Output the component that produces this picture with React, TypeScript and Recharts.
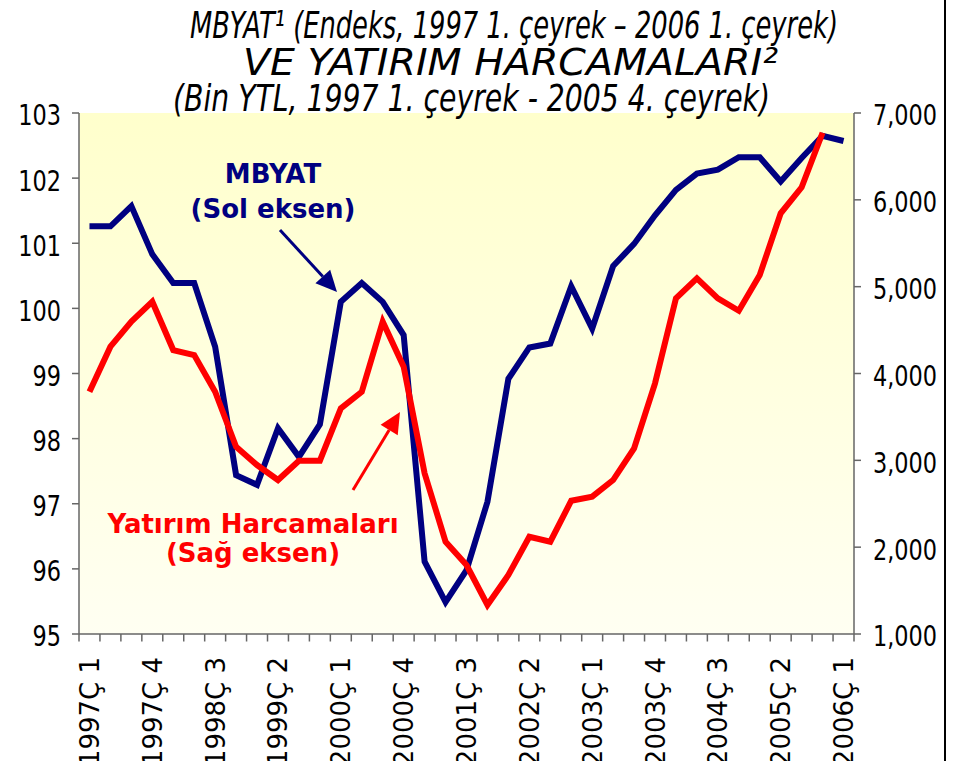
import React from 'react'
import { LineChart, Line, XAxis, YAxis, CartesianGrid } from 'recharts'

// çeyrekler (37 adet)
const QUARTERS = [
  '1997Ç 1', '1997Ç 2', '1997Ç 3', '1997Ç 4',
  '1998Ç 1', '1998Ç 2', '1998Ç 3', '1998Ç 4',
  '1999Ç 1', '1999Ç 2', '1999Ç 3', '1999Ç 4',
  '2000Ç 1', '2000Ç 2', '2000Ç 3', '2000Ç 4',
  '2001Ç 1', '2001Ç 2', '2001Ç 3', '2001Ç 4',
  '2002Ç 1', '2002Ç 2', '2002Ç 3', '2002Ç 4',
  '2003Ç 1', '2003Ç 2', '2003Ç 3', '2003Ç 4',
  '2004Ç 1', '2004Ç 2', '2004Ç 3', '2004Ç 4',
  '2005Ç 1', '2005Ç 2', '2005Ç 3', '2005Ç 4',
  '2006Ç 1',
]

// MBYAT endeksi (sol eksen)
const MBYAT = [
  101.26, 101.26, 101.57, 100.83, 100.39, 100.39, 99.41, 97.44, 97.29, 98.16,
  97.72, 98.22, 100.1, 100.39, 100.1, 99.59, 96.11, 95.49, 95.98, 97.03,
  98.92, 99.4, 99.46, 100.34, 99.69, 100.65, 100.99, 101.43, 101.82, 102.07,
  102.13, 102.32, 102.32, 101.95, 102.31, 102.65, 102.57,
]

// Yatırım harcamaları, bin YTL (sağ eksen) — 2006Ç1 yok
const YATIRIM: (number | null)[] = [
  3790, 4309, 4597, 4827, 4270, 4213, 3790, 3157, 2946, 2773,
  2996, 2996, 3599, 3790, 4597, 4078, 2850, 2063, 1794, 1334,
  1679, 2120, 2063, 2535, 2581, 2773, 3138, 3887, 4866, 5096,
  4866, 4723, 5134, 5845, 6144, 6773, null,
]

const LEFT_TICKS = [95, 96, 97, 98, 99, 100, 101, 102, 103]
const RIGHT_TICKS = [1000, 2000, 3000, 4000, 5000, 6000, 7000]

const data = QUARTERS.map((q, i) => ({ q, mbyat: MBYAT[i], yatirim: YATIRIM[i] }))

const W = 954
const H = 761
const PLOT_LEFT = 79
const PLOT_RIGHT = 854
const PLOT_TOP = 113
const PLOT_BOTTOM = 634
const STEP = (PLOT_RIGHT - PLOT_LEFT) / QUARTERS.length
const AXIS = '#666'

const tickFont = { fontFamily: 'DejaVu Sans', fontSize: 28, fill: '#000' }

function LeftTick(props: any) {
  const { x, y, payload } = props
  return (
    <text
      x={x}
      y={y}
      dy={12.5}
      textAnchor="end"
      transform={`translate(${x},0) scale(0.8,1) translate(${-x},0)`}
      {...tickFont}
    >
      {payload.value}
    </text>
  )
}

function RightTick(props: any) {
  const { x, y, payload } = props
  return (
    <text
      x={x}
      y={y}
      dy={12.5}
      textAnchor="start"
      transform={`translate(${x},0) scale(0.8,1) translate(${-x},0)`}
      {...tickFont}
    >
      {payload.value.toLocaleString('en-US')}
    </text>
  )
}

function QuarterTick(props: any) {
  const { x, y, payload, index } = props
  const top = y + 23
  return (
    <g>
      <line x1={x - STEP / 2} x2={x - STEP / 2} y1={y} y2={y + 7.5} stroke={AXIS} strokeWidth={1.5} />
      {index === QUARTERS.length - 1 && (
        <line x1={x + STEP / 2} x2={x + STEP / 2} y1={y} y2={y + 7.5} stroke={AXIS} strokeWidth={1.5} />
      )}
      {index % 3 === 0 && (
        <text
          x={x}
          y={top}
          dy={9.5}
          textAnchor="end"
          transform={`rotate(-90, ${x}, ${top})`}
          fontFamily="DejaVu Sans"
          fontSize={26}
          fill="#000"
        >
          {payload.value}
        </text>
      )}
    </g>
  )
}

function Arrow({ x1, y1, x2, y2, color, head = 21, half = 10, width = 3 }: any) {
  const a = Math.atan2(y2 - y1, x2 - x1)
  const bx = x2 - head * Math.cos(a)
  const by = y2 - head * Math.sin(a)
  const px = -Math.sin(a) * half
  const py = Math.cos(a) * half
  return (
    <g>
      <line x1={x1} y1={y1} x2={bx} y2={by} stroke={color} strokeWidth={width} />
      <polygon points={`${x2},${y2} ${bx + px},${by + py} ${bx - px},${by - py}`} fill={color} />
    </g>
  )
}

export default function App() {
  return (
    <div style={{ position: 'absolute', left: 0, top: 0, width: W, height: H, background: '#fff' }}>
      <svg width={0} height={0} style={{ position: 'absolute' }}>
        <defs>
          <linearGradient id="plotBg" x1="0" y1="0" x2="0" y2="1">
            <stop offset="0%" stopColor="#ffffcc" />
            <stop offset="100%" stopColor="#fffff2" />
          </linearGradient>
        </defs>
      </svg>
      <LineChart
        width={W}
        height={H}
        data={data}
        margin={{ top: PLOT_TOP, right: 0, bottom: 0, left: 0 }}
      >
        <CartesianGrid horizontal={false} vertical={false} fill="url(#plotBg)" />
        <XAxis
          dataKey="q"
          interval={0}
          height={H - PLOT_BOTTOM}
          padding={{ left: STEP / 2, right: STEP / 2 }}
          tickSize={0}
          tickMargin={0}
          tickLine={false}
          axisLine={{ stroke: AXIS, strokeWidth: 1.5 }}
          tick={<QuarterTick />}
        />
        <YAxis
          yAxisId="left"
          orientation="left"
          width={PLOT_LEFT}
          domain={[95, 103]}
          ticks={LEFT_TICKS}
          interval={0}
          allowDataOverflow
          tickSize={7}
          tickMargin={11}
          axisLine={{ stroke: AXIS, strokeWidth: 1.5 }}
          tickLine={{ stroke: AXIS, strokeWidth: 1.5 }}
          tick={<LeftTick />}
        />
        <YAxis
          yAxisId="right"
          orientation="right"
          width={W - PLOT_RIGHT}
          domain={[1000, 7000]}
          ticks={RIGHT_TICKS}
          interval={0}
          allowDataOverflow
          tickSize={7}
          tickMargin={12}
          axisLine={{ stroke: AXIS, strokeWidth: 1.5 }}
          tickLine={{ stroke: AXIS, strokeWidth: 1.5 }}
          tick={<RightTick />}
        />
        <Line
          yAxisId="left"
          dataKey="mbyat"
          stroke="#000080"
          strokeWidth={6}
          dot={false}
          activeDot={false}
          isAnimationActive={false}
        />
        <Line
          yAxisId="right"
          dataKey="yatirim"
          stroke="#ff0000"
          strokeWidth={6}
          dot={false}
          activeDot={false}
          isAnimationActive={false}
        />
      </LineChart>

      <svg
        width={W}
        height={H}
        style={{ position: 'absolute', left: 0, top: 0, pointerEvents: 'none' }}
      >
        <g fontFamily="DejaVu Sans" fontStyle="italic" fontSize={38} fill="#000">
          <text x={190} y={38} textLength={648} lengthAdjust="spacingAndGlyphs">
            MBYAT¹ (Endeks, 1997 1. çeyrek – 2006 1. çeyrek)
          </text>
          <text x={243} y={75} textLength={535} lengthAdjust="spacingAndGlyphs">
            VE YATIRIM HARCAMALARI²
          </text>
          <text x={173} y={111} textLength={597} lengthAdjust="spacingAndGlyphs">
            (Bin YTL, 1997 1. çeyrek - 2005 4. çeyrek)
          </text>
        </g>

        <g fontFamily="DejaVu Sans" fontWeight="bold" fontSize={26} textAnchor="middle">
          <text x={273} y={183} fill="#000080">MBYAT</text>
          <text x={273} y={218} fill="#000080">(Sol eksen)</text>
          <text x={253} y={533} fill="#ff0000">Yatırım Harcamaları</text>
          <text x={253} y={562} fill="#ff0000">(Sağ eksen)</text>
        </g>

        <Arrow x1={280} y1={230} x2={337} y2={292} color="#000080" />
        <Arrow x1={353} y1={490} x2={400} y2={412} color="#ff0000" />

        <line x1={945} y1={0} x2={945} y2={H} stroke="#000" strokeWidth={2} />
      </svg>
    </div>
  )
}
